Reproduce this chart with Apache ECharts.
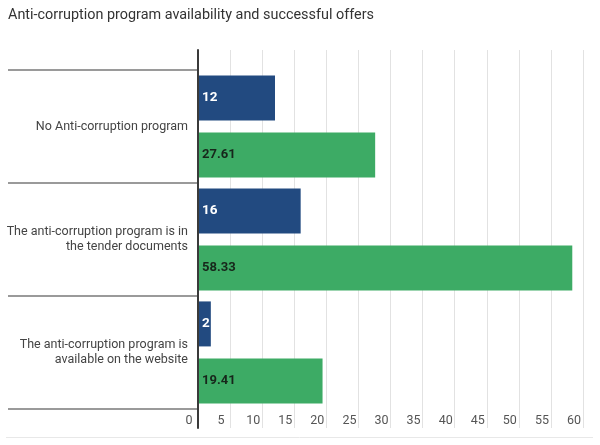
<!DOCTYPE html>
<html>
<head>
<meta charset="utf-8">
<script src="https://cdn.jsdelivr.net/npm/echarts@6/dist/echarts.min.js"></script>
<style>html,body{margin:0;padding:0;background:#fff;}#c{width:600px;height:445px;}</style>
</head>
<body>
<div id="c"></div>
<script>
const categories = [
  "No Anti-corruption program",
  "The anti-corruption program is in\nthe tender documents",
  "The anti-corruption program is\navailable on the website"
];
const seriesA = [12, 16, 2];
const seriesB = [27.61, 58.33, 19.41];
const xMin = 0, xMax = 60, xStep = 5;

const chart = echarts.init(document.getElementById('c'));
const font = 'Roboto, "Noto Sans", sans-serif';
chart.setOption({
  animation: false,
  backgroundColor: '#fff',
  title: {
    text: 'Anti-corruption program availability and successful offers',
    left: 3, top: 3,
    textStyle: { fontFamily: font, fontSize: 14.4, fontWeight: 'normal', color: '#333' }
  },
  graphic: [{
    type: 'line', silent: true,
    shape: { x1: 6, y1: 437.5, x2: 593, y2: 437.5 },
    style: { stroke: '#e8e8e8', lineWidth: 1 }
  }],
  grid: [
    { left: 198, right: 17, top: 70, bottom: 36 },
    { left: 198, right: 17, top: 50, bottom: 17 }
  ],
  xAxis: [
    {
      gridIndex: 0, type: 'value', min: xMin, max: xMax, interval: xStep,
      axisLine: { show: false }, axisTick: { show: false }, splitLine: { show: false },
      axisLabel: { margin: 5, color: '#555', fontSize: 12.5, fontFamily: font, padding: [0, 18, 0, 0] }
    },
    {
      gridIndex: 1, type: 'value', min: xMin, max: xMax, interval: xStep,
      axisLine: { show: false }, axisTick: { show: false }, axisLabel: { show: false },
      splitLine: { show: true, lineStyle: { color: '#e2e2e2', width: 1 } }
    }
  ],
  yAxis: [
    {
      gridIndex: 0, type: 'category', data: categories, inverse: true,
      axisLine: { show: false },
      axisTick: { show: true, length: 190, lineStyle: { color: '#7a7a7a', width: 1.5 } },
      axisLabel: { margin: 10, color: '#444', fontSize: 12.5, fontFamily: font, lineHeight: 15, align: 'right' },
      splitLine: { show: false }
    },
    {
      gridIndex: 1, type: 'value', min: 0, max: 1, z: 5,
      axisLine: { show: true, lineStyle: { color: '#3a3a3a', width: 2 } },
      axisTick: { show: false }, axisLabel: { show: false }, splitLine: { show: false }
    }
  ],
  series: [
    {
      type: 'bar', xAxisIndex: 0, yAxisIndex: 0, data: seriesA,
      barWidth: 45, barGap: '27%',
      itemStyle: { color: '#224a80' },
      label: { show: true, position: 'insideLeft', distance: 4, color: '#fff', fontWeight: 'bold', fontSize: 13.5, fontFamily: font }
    },
    {
      type: 'bar', xAxisIndex: 0, yAxisIndex: 0, data: seriesB,
      barWidth: 45, barGap: '27%',
      itemStyle: { color: '#3dab65' },
      label: { show: true, position: 'insideLeft', distance: 4, color: '#17261b', fontWeight: 'bold', fontSize: 13, fontFamily: font }
    }
  ]
});
</script>
</body>
</html>
